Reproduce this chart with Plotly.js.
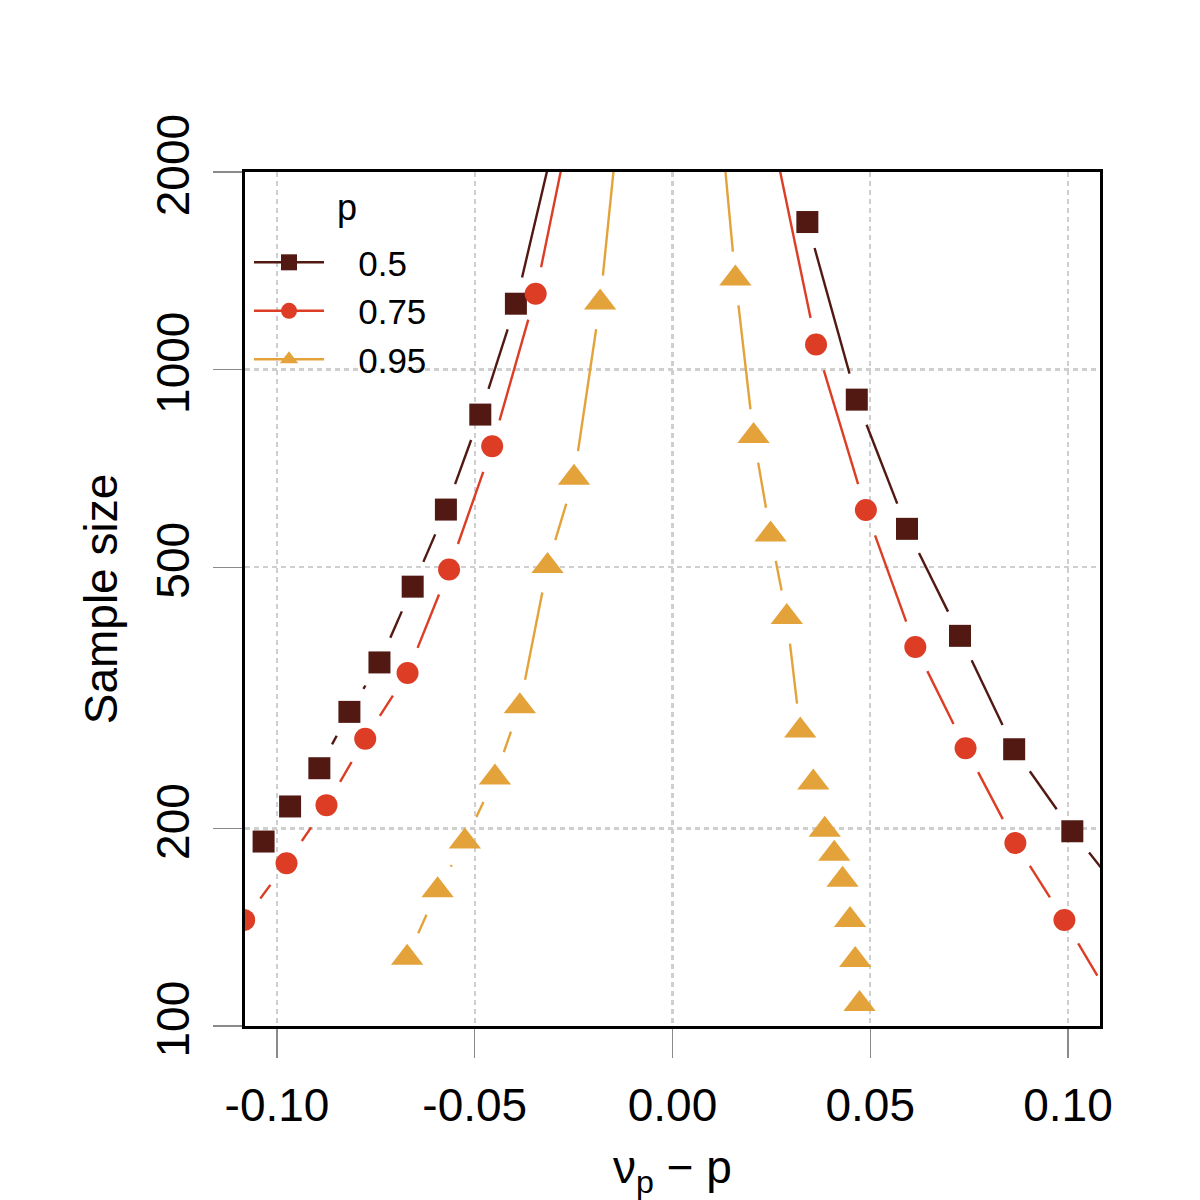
<!DOCTYPE html>
<html><head><meta charset="utf-8">
<script src="https://cdn.plot.ly/plotly-3.0.1.min.js"></script>
<style>html,body{margin:0;padding:0;background:#fff}#chart{width:1200px;height:1200px}</style>
</head><body><div id="chart"></div>
<script>
// ---- data ----
const seriesNames = ["0.5", "0.75", "0.95"];
const legendTitle = "p";
const colors = ["#521812", "#DC3D24", "#E3A23A"];
const symbols = ["square", "circle", "triangle-up"];

// p = 0.5
const p50LeftX  = [-0.1034, -0.0967, -0.0893, -0.0817, -0.0741, -0.0657, -0.0573, -0.0486, -0.0396, -0.0280];
const p50LeftN  = [191, 216, 247, 301, 358, 467, 612, 854, 1260, 2500];
const p50RightX = [0.0341, 0.0466, 0.0593, 0.0727, 0.0864, 0.1011, 0.1169];
const p50RightN = [1678, 900, 572, 393, 264, 198, 150];

// p = 0.75
const p75LeftX  = [-0.1083, -0.0976, -0.0875, -0.0777, -0.0670, -0.0565, -0.0456, -0.0346, -0.0250];
const p75LeftN  = [145, 177, 217, 274, 345, 496, 764, 1305, 2500];
const p75RightX = [0.0239, 0.0363, 0.0489, 0.0614, 0.0741, 0.0867, 0.0991, 0.1109];
const p75RightN = [2500, 1092, 611, 378, 265, 190, 145, 110];

// p = 0.95
const p95LeftX  = [-0.0671, -0.0594, -0.0525, -0.0449, -0.0386, -0.0316, -0.0249, -0.0183, -0.0133];
const p95LeftN  = [127, 161, 191, 239, 307, 502, 684, 1265, 2500];
const p95RightX = [0.0119, 0.0159, 0.0205, 0.0248, 0.0289, 0.0323, 0.0356, 0.0385, 0.0409, 0.0430, 0.0449, 0.0462, 0.0473];
const p95RightN = [2500, 1376, 792, 561, 420, 282, 235, 199, 183, 167, 145, 126, 108];

const xTickVals = [-0.10, -0.05, 0.00, 0.05, 0.10];
const xTickText = ["-0.10", "-0.05", "0.00", "0.05", "0.10"];
const yTickVals = [100, 200, 500, 1000, 2000];
const yTickText = ["100", "200", "500", "1000", "2000"];

// ---- build ----
const groups = [
  {s: 0, parts: [[p50LeftX, p50LeftN], [p50RightX, p50RightN]]},
  {s: 1, parts: [[p75LeftX, p75LeftN], [p75RightX, p75RightN]]},
  {s: 2, parts: [[p95LeftX, p95LeftN], [p95RightX, p95RightN]]}
];
const markerSizes = [22, 22, 28];
const GAP = 27;
const PAD = '\u00A0\u00A0\u00A0';

const traces = [];
const segIndex = [];
// legend keys (no data)
groups.forEach(g => {
  traces.push({
    x: [null], y: [null], type: 'scatter', mode: 'lines+markers',
    name: PAD + seriesNames[g.s], showlegend: true, hoverinfo: 'skip',
    line: {color: colors[g.s], width: 2.4},
    marker: {color: colors[g.s], symbol: symbols[g.s], size: 16}
  });
});
// gapped connecting lines (filled after layout is known)
groups.forEach(g => {
  g.parts.forEach(p => {
    segIndex.push({idx: traces.length, xs: p[0], ns: p[1]});
    traces.push({
      x: [], y: [], type: 'scatter', mode: 'lines', showlegend: false, hoverinfo: 'skip',
      line: {color: colors[g.s], width: 2.4}
    });
  });
});
// markers
groups.forEach(g => {
  g.parts.forEach(p => {
    traces.push({
      x: p[0], y: p[1], type: 'scatter', mode: 'markers', showlegend: false,
      marker: {color: colors[g.s], symbol: symbols[g.s], size: markerSizes[g.s], line: {width: 0}}
    });
  });
});

const FONT = 'Liberation Sans, Arial, Helvetica, sans-serif';
const axisCommon = {
  showline: true, linecolor: '#000', linewidth: 3, mirror: true,
  ticks: 'outside', ticklen: 29, tickwidth: 1.2, tickcolor: '#8a8a8a',
  showgrid: true, gridcolor: '#cfcfcf', gridwidth: 2.4, griddash: '5px,4px',
  zeroline: false, tickfont: {size: 46, color: '#000', family: FONT}
};

const layout = {
  width: 1200, height: 1200,
  margin: {l: 245, r: 100, t: 172, b: 174},
  paper_bgcolor: '#fff', plot_bgcolor: '#fff',
  font: {family: FONT, color: '#000'},
  showlegend: true,
  legend: {
    x: 0.0047, xanchor: 'left', y: 0.9285, yanchor: 'top',
    bgcolor: 'rgba(0,0,0,0)', borderwidth: 0,
    font: {size: 35, family: FONT, color: '#000'},
    itemwidth: 70, tracegroupgap: 0
  },
  annotations: [{
    text: legendTitle, xref: 'paper', yref: 'paper', x: 0.1193, y: 0.959,
    xanchor: 'center', yanchor: 'middle', showarrow: false,
    font: {size: 36, family: FONT, color: '#000'}
  }],
  xaxis: Object.assign({}, axisCommon, {
    range: [-0.1081, 0.1081], tickmode: 'array', tickvals: xTickVals, ticktext: xTickText,
    ticklabelstandoff: 8,
    title: {text: 'ν<sub>p</sub> − p', font: {size: 46, family: FONT, color: '#000'}, standoff: 33}
  }),
  yaxis: Object.assign({}, axisCommon, {
    type: 'log', range: [2, Math.log10(2000)], tickmode: 'array', tickvals: yTickVals, ticktext: yTickText,
    tickangle: -90, ticklabelstandoff: 6,
    title: {text: 'Sample size', font: {size: 46, family: FONT, color: '#000'}, standoff: 15}
  })
};

const gd = document.getElementById('chart');
Plotly.newPlot(gd, traces, layout, {displayModeBar: false, staticPlot: true}).then(() => {
  const xa = gd._fullLayout.xaxis, ya = gd._fullLayout.yaxis;
  const xs = [], ys = [], ids = [];
  segIndex.forEach(si => {
    const px = si.xs.map(v => xa.d2p(v));
    const py = si.ns.map(v => ya.d2p(v));
    const ox = [], oy = [];
    for (let i = 0; i < px.length - 1; i++) {
      const dx = px[i + 1] - px[i], dy = py[i + 1] - py[i];
      const d = Math.hypot(dx, dy);
      if (d <= 2 * GAP) continue;
      const ux = dx / d, uy = dy / d;
      ox.push(xa.p2d(px[i] + ux * GAP), xa.p2d(px[i + 1] - ux * GAP), null);
      oy.push(ya.p2d(py[i] + uy * GAP), ya.p2d(py[i + 1] - uy * GAP), null);
    }
    xs.push(ox); ys.push(oy); ids.push(si.idx);
  });
  return Plotly.restyle(gd, {x: xs, y: ys}, ids);
});
</script></body></html>
